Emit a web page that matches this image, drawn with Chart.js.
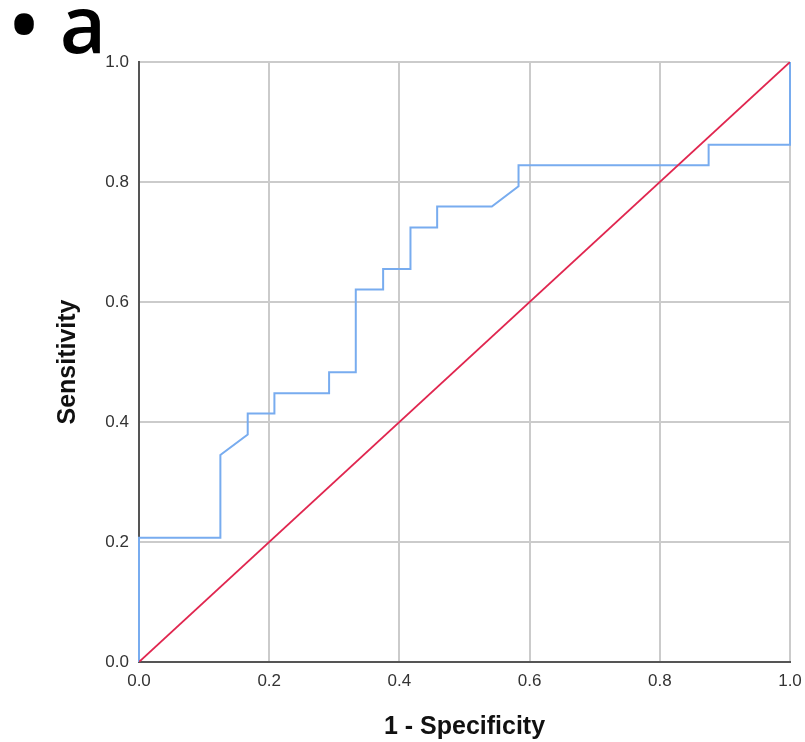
<!DOCTYPE html>
<html>
<head>
<meta charset="utf-8">
<script src="https://cdn.jsdelivr.net/npm/chart.js@4"></script>
<style>
  html, body { margin: 0; padding: 0; background: #fff; }
  #wrap { position: relative; width: 805px; height: 742px; }
  #panel-label {
    position: absolute; left: 9px; top: -18px;
    font-family: "Open Sans", "Noto Sans", sans-serif; font-weight: 600;
    font-size: 80px; line-height: 80px; color: #000; white-space: pre;
  }
</style>
</head>
<body>
<div id="wrap">
  <canvas id="myChart" width="805" height="742"></canvas>
  <div id="panel-label">• a</div>
</div>
<script>
"use strict";

//ROC curve (1 - specificity, sensitivity).
var fprValues = [0, 0, 0.125, 0.125, 0.167, 0.167, 0.208, 0.208, 0.292, 0.292, 0.333, 0.333,
  0.375, 0.375, 0.417, 0.417, 0.458, 0.458, 0.542, 0.583, 0.583, 0.875, 0.875, 1, 1];
var tprValues = [0, 0.207, 0.207, 0.345, 0.379, 0.414, 0.414, 0.448, 0.448, 0.483, 0.483, 0.621,
  0.621, 0.655, 0.655, 0.724, 0.724, 0.759, 0.759, 0.793, 0.828, 0.828, 0.862, 0.862, 1];

//Reference line.
var refX = [0, 1];
var refY = [0, 1];

var tickLabels = ["0.0", "0.2", "0.4", "0.6", "0.8", "1.0"];

function toPoints(xs, ys) {
    var pts = [];
    for (var i = 0; i < xs.length; i++) {
        pts.push({ x: xs[i], y: ys[i] });
    }
    return pts;
}

var tickFont = { family: "'Liberation Sans', Arial, sans-serif", size: 17 };
var titleFont = { family: "'Liberation Sans', Arial, sans-serif", size: 25, weight: 'bold' };

var ctx = document.getElementById('myChart').getContext('2d');
var myChart = new Chart(ctx, {
    type: 'scatter',
    data: {
        datasets: [{
            label: 'Reference Line',
            data: toPoints(refX, refY),
            showLine: true,
            borderColor: '#e0264f',
            borderWidth: 1.8,
            pointRadius: 0
        }, {
            label: 'ROC',
            data: toPoints(fprValues, tprValues),
            showLine: true,
            clip: false,
            borderColor: '#78acef',
            borderWidth: 2,
            pointRadius: 0
        }]
    },
    options: {
        responsive: false,
        animation: false,
        layout: { padding: { left: 0, right: 15, top: 62, bottom: 0 } },
        plugins: {
            legend: { display: false },
            tooltip: { enabled: false }
        },
        scales: {
            x: {
                type: 'linear', min: 0, max: 1,
                afterFit: function (scale) {
                    scale.height = 80;
                    scale.paddingLeft = 0;
                    scale.paddingRight = 0;
                },
                grid: { color: '#cbcbcb', lineWidth: 2, drawTicks: false },
                border: { color: '#555555', width: 2 },
                ticks: {
                    stepSize: 0.2, padding: 9, color: '#333333', font: tickFont, maxRotation: 0,
                    callback: function (v, i) { return tickLabels[i]; }
                },
                title: {
                    display: true, text: '1 - Specificity', color: '#111111', font: titleFont,
                    padding: { top: 0, bottom: 0 }
                }
            },
            y: {
                type: 'linear', min: 0, max: 1,
                afterFit: function (scale) {
                    scale.width = 139;
                    scale.paddingTop = 0;
                    scale.paddingBottom = 0;
                },
                grid: { color: '#cbcbcb', lineWidth: 2, drawTicks: false },
                border: { color: '#555555', width: 2 },
                ticks: {
                    stepSize: 0.2, padding: 10, color: '#333333', font: tickFont,
                    callback: function (v, i) { return tickLabels[i]; }
                },
                title: {
                    display: true, text: 'Sensitivity', color: '#111111', font: titleFont,
                    padding: { top: 53, bottom: 0 }
                }
            }
        }
    }
});
</script>
</body>
</html>
